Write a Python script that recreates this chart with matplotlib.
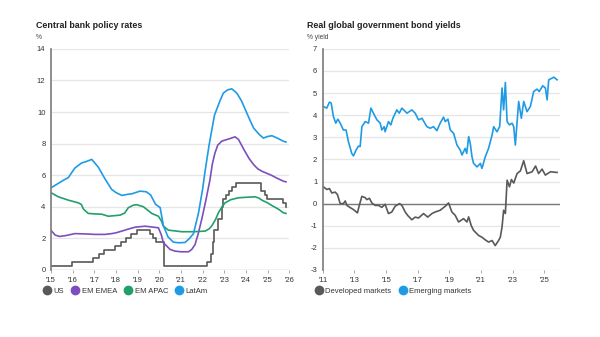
import matplotlib
matplotlib.use('Agg')
import matplotlib.pyplot as plt
from matplotlib.lines import Line2D

plt.rcParams['font.family'] = ['Liberation Sans', 'DejaVu Sans']
plt.rcParams['axes.unicode_minus'] = False

# ---------------------------------------------------------------------------
# Datos — panel izquierdo: tasas de política monetaria (%)
# ---------------------------------------------------------------------------
us_t = [2015.0, 2015.96, 2016.96, 2017.21, 2017.46, 2017.96, 2018.21, 2018.46,
        2018.71, 2018.96, 2019.58, 2019.71, 2019.83, 2020.21, 2022.21, 2022.38,
        2022.46, 2022.54, 2022.71, 2022.88, 2022.96, 2023.09, 2023.21, 2023.38,
        2023.54, 2024.71, 2024.88, 2024.96, 2025.71, 2025.83, 2025.85]
us_v = [0.25, 0.5, 0.75, 1.0, 1.25, 1.5, 1.75, 2.0,
        2.25, 2.5, 2.25, 2.0, 1.75, 0.25, 0.5, 1.0,
        1.75, 2.5, 3.25, 4.0, 4.5, 4.75, 5.0, 5.25,
        5.5, 5.0, 4.75, 4.5, 4.25, 4.0, 4.0]

emea_t = [2015.0, 2015.2, 2015.4, 2015.7, 2016.1, 2016.6, 2017.03, 2017.5, 2017.8,
          2018.0, 2018.27, 2018.6, 2018.9, 2019.34, 2019.65, 2019.96, 2020.1, 2020.19,
          2020.5, 2020.73, 2021.0, 2021.35, 2021.5, 2021.65, 2021.8, 2021.96, 2022.15,
          2022.34, 2022.45, 2022.57, 2022.7, 2022.88, 2023.1, 2023.27, 2023.5, 2023.66,
          2023.8, 2023.96, 2024.15, 2024.35, 2024.55, 2024.74, 2025.0, 2025.2, 2025.45,
          2025.73, 2025.85]
emea_v = [2.5, 2.2, 2.12, 2.18, 2.3, 2.28, 2.25, 2.25, 2.3,
          2.35, 2.46, 2.6, 2.71, 2.77, 2.72, 2.67, 2.2, 1.72,
          1.3, 1.19, 1.15, 1.15, 1.3, 1.6, 2.3, 3.2, 4.4,
          5.7, 6.7, 7.4, 7.9, 8.15, 8.25, 8.32, 8.43, 8.26,
          7.9, 7.5, 7.05, 6.68, 6.4, 6.25, 6.1, 5.98, 5.8,
          5.62, 5.58]

apac_t = [2015.0, 2015.34, 2015.8, 2016.26, 2016.4, 2016.5, 2016.72, 2017.0, 2017.34,
          2017.65, 2018.19, 2018.4, 2018.57, 2018.8, 2018.96, 2019.27, 2019.45, 2019.65,
          2019.96, 2020.1, 2020.19, 2020.42, 2021.04, 2021.6, 2022.12, 2022.3, 2022.43,
          2022.6, 2022.73, 2022.9, 2023.04, 2023.3, 2023.66, 2024.0, 2024.43, 2024.6,
          2024.74, 2025.0, 2025.2, 2025.5, 2025.73, 2025.85]
apac_v = [4.89, 4.63, 4.42, 4.25, 4.15, 3.85, 3.58, 3.55, 3.53,
          3.4, 3.47, 3.6, 3.94, 4.1, 4.13, 4.0, 3.8, 3.58,
          3.4, 3.1, 2.77, 2.52, 2.42, 2.42, 2.46, 2.6, 2.8,
          3.2, 3.62, 4.0, 4.25, 4.45, 4.57, 4.6, 4.63, 4.55,
          4.42, 4.25, 4.08, 3.85, 3.62, 3.58]

latam_t = [2015.0, 2015.3, 2015.6, 2015.8, 2016.1, 2016.42, 2016.6, 2016.88, 2017.19,
           2017.5, 2017.8, 2018.0, 2018.27, 2018.5, 2018.73, 2019.11, 2019.4, 2019.6,
           2019.83, 2020.04, 2020.19, 2020.4, 2020.65, 2020.9, 2021.19, 2021.4, 2021.58,
           2021.81, 2022.0, 2022.12, 2022.3, 2022.43, 2022.55, 2022.66, 2022.8, 2022.96,
           2023.15, 2023.35, 2023.58, 2023.8, 2023.96, 2024.15, 2024.35, 2024.6, 2024.81,
           2025.0, 2025.2, 2025.45, 2025.73, 2025.85]
latam_v = [5.2, 5.45, 5.7, 5.85, 6.45, 6.78, 6.85, 7.0, 6.5,
           5.75, 5.1, 4.9, 4.72, 4.78, 4.82, 4.99, 4.95, 4.75,
           4.15, 3.95, 2.8, 2.1, 1.76, 1.72, 1.74, 2.0, 2.3,
           3.6, 5.1, 6.3, 7.9, 8.9, 9.8, 10.2, 10.7, 11.2,
           11.4, 11.47, 11.2, 10.7, 10.2, 9.6, 9.0, 8.6, 8.35,
           8.45, 8.5, 8.35, 8.15, 8.1]

left_ticks = list(range(2015, 2027))
left_labels = ["'15", "'16", "'17", "'18", "'19", "'20", "'21", "'22", "'23", "'24", "'25", "'26"]

# ---------------------------------------------------------------------------
# Datos — panel derecho: rendimientos reales de bonos (% yield)
# ---------------------------------------------------------------------------
em_t = [2011.04, 2011.25, 2011.42, 2011.53, 2011.67, 2011.82, 2011.95, 2012.1, 2012.3,
        2012.47, 2012.62, 2012.83, 2012.94, 2013.1, 2013.25, 2013.36, 2013.47, 2013.68,
        2013.89, 2014.04, 2014.2, 2014.42, 2014.63, 2014.73, 2014.88, 2014.94, 2015.15,
        2015.3, 2015.43, 2015.68, 2015.83, 2016.0, 2016.32, 2016.63, 2016.84, 2017.05,
        2017.27, 2017.58, 2017.79, 2018.0, 2018.21, 2018.42, 2018.63, 2018.74, 2018.91,
        2019.06, 2019.27, 2019.48, 2019.69, 2019.8, 2020.0, 2020.1, 2020.22, 2020.32,
        2020.43, 2020.53, 2020.75, 2020.96, 2021.06, 2021.27, 2021.48, 2021.7, 2021.8,
        2022.01, 2022.18, 2022.33, 2022.43, 2022.54, 2022.65, 2022.8, 2022.96, 2023.07,
        2023.17, 2023.38, 2023.55, 2023.7, 2023.91, 2024.12, 2024.33, 2024.54, 2024.68,
        2024.9, 2025.07, 2025.18, 2025.28, 2025.5, 2025.6, 2025.81]
em_v = [4.39, 4.32, 4.59, 4.55, 3.94, 3.64, 3.82, 3.64, 3.33,
        3.33, 2.8, 2.27, 2.16, 2.42, 2.6, 2.58, 3.48, 3.71,
        3.64, 4.32, 4.09, 3.79, 3.64, 3.33, 3.48, 3.25, 3.71,
        3.56, 3.86, 4.24, 4.09, 4.32, 4.09, 4.24, 4.09, 3.79,
        3.86, 3.48, 3.41, 3.48, 3.3, 3.64, 3.91, 3.71, 3.82,
        3.33, 3.18, 2.65, 2.42, 2.2, 2.5, 2.27, 3.03, 2.73,
        2.12, 1.82, 1.66, 1.82, 1.59, 2.12, 2.5, 3.1, 3.48,
        3.25, 3.48, 5.23, 4.24, 5.48, 3.71, 3.56, 3.64, 3.48,
        2.65, 4.62, 3.86, 4.62, 4.16, 4.39, 5.07, 5.18, 5.07,
        5.33, 5.23, 4.69, 5.6, 5.68, 5.72, 5.6]

dm_t = [2011.04, 2011.25, 2011.42, 2011.57, 2011.78, 2011.92, 2012.1, 2012.3, 2012.42,
        2012.52, 2012.73, 2012.94, 2013.19, 2013.3, 2013.47, 2013.68, 2013.78, 2013.95,
        2014.1, 2014.31, 2014.52, 2014.73, 2014.94, 2015.15, 2015.36, 2015.57, 2015.85,
        2016.0, 2016.21, 2016.36, 2016.63, 2016.84, 2017.05, 2017.37, 2017.63, 2017.9,
        2018.1, 2018.42, 2018.74, 2018.95, 2019.16, 2019.37, 2019.58, 2019.9, 2020.11,
        2020.22, 2020.38, 2020.53, 2020.85, 2021.06, 2021.27, 2021.48, 2021.7, 2021.9,
        2022.11, 2022.22, 2022.33, 2022.43, 2022.54, 2022.65, 2022.8, 2022.92, 2023.07,
        2023.28, 2023.49, 2023.7, 2023.91, 2024.23, 2024.45, 2024.64, 2024.86, 2025.07,
        2025.39, 2025.81]
dm_v = [0.76, 0.64, 0.68, 0.48, 0.52, 0.42, 0.0, 0.0, 0.12,
        -0.08, -0.18, -0.27, -0.42, -0.1, 0.33, 0.27, 0.18, 0.24,
        0.03, -0.08, -0.08, -0.17, -0.03, -0.45, -0.38, -0.12, 0.0,
        -0.08, -0.38, -0.53, -0.73, -0.61, -0.65, -0.45, -0.61, -0.45,
        -0.38, -0.3, -0.12, 0.03, -0.38, -0.53, -0.83, -0.68, -0.83,
        -0.6, -0.99, -1.21, -1.44, -1.52, -1.64, -1.74, -1.67, -1.9,
        -1.67, -1.52, -1.06, -0.3, -0.45, 1.06, 0.76, 1.09, 0.93,
        1.36, 1.48, 1.94, 1.36, 1.44, 1.7, 1.36, 1.56, 1.29,
        1.44, 1.41]

right_ticks = list(range(2011, 2027, 2))
right_labels = ["'11", "'13", "'15", "'17", "'19", "'21", "'23", "'25"]

C_US = '#58595b'
C_EMEA = '#7d4fbd'
C_APAC = '#22a06b'
C_LATAM = '#1f9be6'
GRID = '#e6e6e6'
TXT = '#333333'


def _estilo_ax(ax):
    for s in ['top', 'right', 'bottom']:
        ax.spines[s].set_visible(False)
    ax.spines['left'].set_color('#7a7a7a')
    ax.spines['left'].set_linewidth(1.2)
    ax.grid(axis='y', color=GRID, linewidth=0.9)
    ax.set_axisbelow(True)
    ax.tick_params(axis='y', length=0, labelsize=5.5, colors=TXT, pad=4)
    ax.tick_params(axis='x', length=2, width=0.6, color='#9a9a9a', labelsize=5.5,
                   colors=TXT, pad=3)


fig = plt.figure(figsize=(6.0, 3.37), dpi=100)

# ── Panel izquierdo ────────────────────────────────────────────────────────
ax1 = fig.add_axes([0.085, 0.199, 0.397, 0.656])
ax1.plot(us_t, us_v, color=C_US, linewidth=1.2, drawstyle='steps-post')
ax1.plot(emea_t, emea_v, color=C_EMEA, linewidth=1.2)
ax1.plot(apac_t, apac_v, color=C_APAC, linewidth=1.2)
ax1.plot(latam_t, latam_v, color=C_LATAM, linewidth=1.2)
ax1.set_xlim(2015, 2026)
ax1.set_ylim(0, 14)
ax1.set_yticks(range(0, 15, 2))
ax1.set_xticks(left_ticks)
ax1.set_xticklabels(left_labels)
_estilo_ax(ax1)
ax1.axhline(0, color='#b0b0b0', linewidth=0.9, zorder=1)

# ── Panel derecho ──────────────────────────────────────────────────────────
ax2 = fig.add_axes([0.538, 0.199, 0.3955, 0.656])
ax2.plot(em_t, em_v, color=C_LATAM, linewidth=1.2)
ax2.plot(dm_t, dm_v, color=C_US, linewidth=1.2)
ax2.set_xlim(2011, 2026)
ax2.set_ylim(-3, 7)
ax2.set_yticks(range(-3, 8))
ax2.set_xticks(right_ticks)
ax2.set_xticklabels(right_labels)
_estilo_ax(ax2)
ax2.axhline(0, color='#7a7a7a', linewidth=1.0, zorder=1)

# ── Títulos ────────────────────────────────────────────────────────────────
fig.text(0.06, 0.923, 'Central bank policy rates', fontsize=6.4, fontweight='bold',
         color='#222222', va='center')
fig.text(0.06, 0.89, '%', fontsize=4.8, color='#444444', va='center')
fig.text(0.512, 0.923, 'Real global government bond yields', fontsize=6.4,
         fontweight='bold', color='#222222', va='center')
fig.text(0.512, 0.89, '% yield', fontsize=4.8, color='#444444', va='center')

# ── Leyendas ───────────────────────────────────────────────────────────────
def _h(c):
    return Line2D([], [], marker='o', linestyle='none', markersize=6,
                  markerfacecolor=c, markeredgecolor=c)

fig.legend([_h(C_US), _h(C_EMEA), _h(C_APAC), _h(C_LATAM)],
           ['US', 'EM EMEA', 'EM APAC', 'LatAm'],
           loc='center left', bbox_to_anchor=(0.074, 0.137), ncol=4, frameon=False,
           fontsize=5.5, handlelength=0.7, handletextpad=0.5, columnspacing=1.1,
           borderpad=0, borderaxespad=0, labelcolor=TXT)
fig.legend([_h(C_US), _h(C_LATAM)], ['Developed markets', 'Emerging markets'],
           loc='center left', bbox_to_anchor=(0.527, 0.137), ncol=2, frameon=False,
           fontsize=5.5, handlelength=0.7, handletextpad=0.5, columnspacing=1.1,
           borderpad=0, borderaxespad=0, labelcolor=TXT)

fig.savefig('out.png', dpi=100, facecolor='white')
